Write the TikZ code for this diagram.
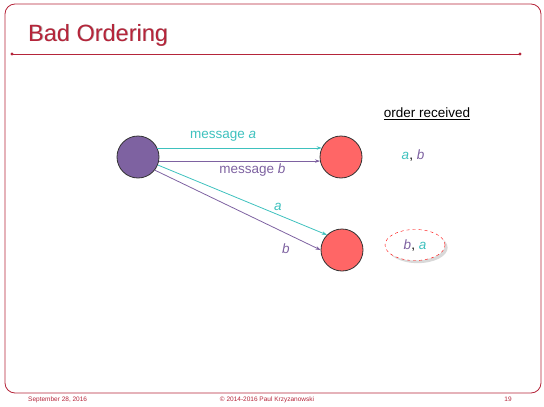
\documentclass[tikz,border=0pt]{standalone}
\usepackage{fontspec}
\setmainfont{Liberation Sans}
\usetikzlibrary{positioning,arrows.meta,shapes.geometric,shadows}

\definecolor{slidered}{HTML}{B5253A}
\definecolor{msgpurple}{HTML}{7E62A1}
\definecolor{msgcyan}{HTML}{3EC1BE}
\definecolor{procred}{HTML}{FF6666}

\begin{document}
\begin{tikzpicture}[
        x=1pt, y=-1pt,
        proc/.style={circle, draw=black!80, thick, minimum size=42pt, inner sep=0pt},
        msga/.style={-{Stealth[length=5pt,width=3.5pt]}, thick, draw=msgcyan},
        msgb/.style={-{Stealth[length=5pt,width=3.5pt]}, thick, draw=msgpurple},
        lbl/.style={font=\fontsize{13.5}{16}\selectfont, inner sep=1pt},
        foot/.style={font=\fontsize{6.5}{8}\selectfont, text=slidered}
    ]
        \useasboundingbox (0,0) rectangle (544,407);

        % slide frame and title
        \draw[slidered, thick, rounded corners=10pt] (5,4) rectangle (541,393);
        \node[anchor=base west, inner sep=0pt, text=black!25, font=\fontsize{23.5}{26}\selectfont] at (28.8,41.8) {Bad Ordering};
        \node[anchor=base west, inner sep=0pt, text=slidered, font=\fontsize{23.5}{26}\selectfont] (title) at (28,41) {Bad Ordering};
        \coordinate (ruleL) at (12,54);
        \coordinate (ruleR) at (520,54);
        \draw[slidered, thick] (ruleL) -- (ruleR);
        \fill[slidered] (ruleL) circle (1.6) (ruleR) circle (1.6);

        % processes
        \node[proc, fill=msgpurple] (sender) at (138,157) {};
        \node[proc, fill=procred] (recvA) at (341,157) {};
        \node[proc, fill=procred] (recvB) at (342,250) {};

        % messages
        \draw[msga] (sender.25) -- node[lbl, pos=0.4, above=5pt, text=msgcyan] {message \textit{a}} (recvA.155);
        \draw[msgb] (sender.-11) -- node[lbl, pos=0.58, below=1pt, text=msgpurple] {message \textit{b}} (recvA.191);
        \draw[msga] (sender.-22) -- node[lbl, pos=0.71, above=3pt, text=msgcyan] {\textit{a}} (recvB.135);
        \draw[msgb] (sender.-38) -- node[lbl, pos=0.79, below=9pt, text=msgpurple] {\textit{b}} (recvB.180);

        % order received
        \node[lbl] (order) at (427,114) {\underline{order received}};
        \node[lbl] (orderA) at (413,155) {\textcolor{msgcyan}{\textit{a}}, \textcolor{msgpurple}{\textit{b}}};
        \node[lbl, ellipse, draw=red, dashed, fill=white, drop shadow={opacity=0.3}, minimum width=60pt, minimum height=31pt] (orderB) at (415,245) {\textcolor{msgpurple}{\textit{b}}, \textcolor{msgcyan}{\textit{a}}};

        % footer
        \node[foot, anchor=base west, inner sep=0pt] (date) at (28,401) {September 28, 2016};
        \node[foot, anchor=base] (copy) at (267,401) {\textcopyright{} 2014-2016 Paul Krzyzanowski};
        \node[foot, anchor=base] (page) at (508,401) {19};
    \end{tikzpicture}
\end{document}
